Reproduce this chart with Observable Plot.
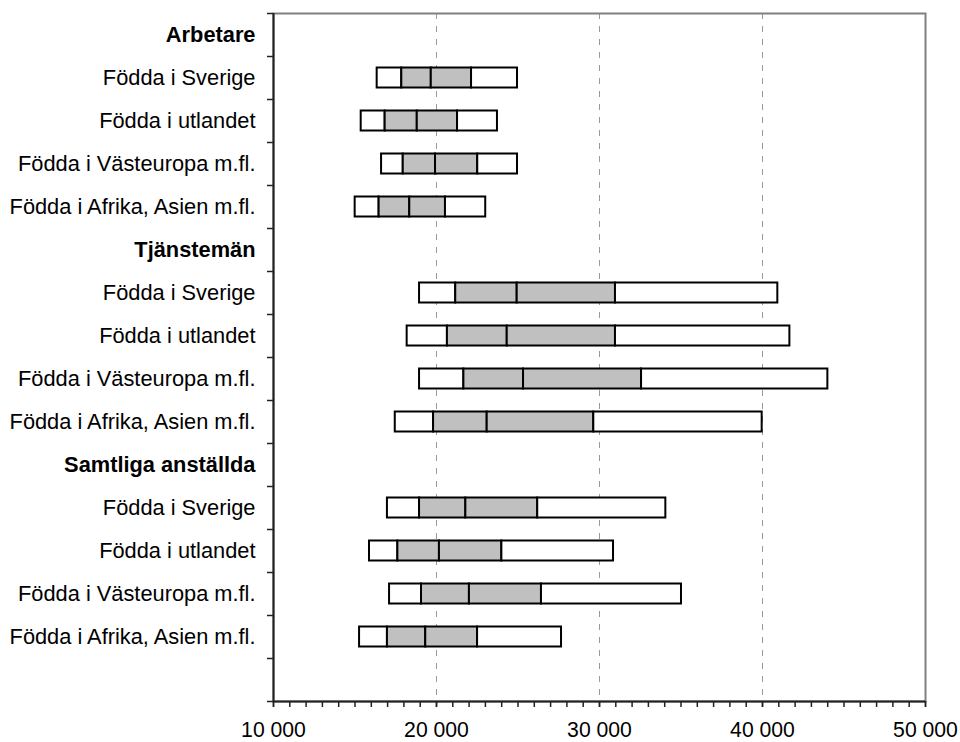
<!DOCTYPE html>
<html>
<head>
<meta charset="utf-8">
<script src="https://cdn.jsdelivr.net/npm/d3@7"></script>
<script src="https://cdn.jsdelivr.net/npm/@observablehq/plot@0.6"></script>
<style>
  html, body { margin: 0; padding: 0; background: #fff; }
</style>
</head>
<body>
<div id="chart"></div>
<script>
const groups = ["Arbetare", "Tjänstemän", "Samtliga anställda"];
const origins = ["Födda i Sverige", "Födda i utlandet", "Födda i Västeuropa m.fl.", "Födda i Afrika, Asien m.fl."];
// per row (group x origin): P10, P25, median, P75, P90
const p10 = [16360, 15380, 16630, 15010, 18960, 18200, 18960, 17470, 16990, 15890, 17120, 15280];
const p25 = [17870, 16850, 17960, 16480, 21180, 20670, 21680, 19820, 18960, 17630, 19080, 16990];
const p50 = [19680, 18820, 19940, 18360, 24950, 24340, 25340, 23110, 21800, 20180, 22020, 19340];
const p75 = [22150, 21290, 22530, 20550, 30980, 30980, 32580, 29650, 26210, 24010, 26440, 22520];
const p90 = [24970, 23740, 24970, 23020, 40940, 41680, 44010, 39980, 34070, 30860, 35030, 27670];
const xTicks = [10000, 20000, 30000, 40000, 50000];
const gridValues = [20000, 30000, 40000];

// row labels (16 bands, last one empty)
const labels = [];
groups.forEach(g => { labels.push(g); origins.forEach(o => labels.push(o)); });
labels.push("");
const headerRows = groups.map((g, i) => i * 5);
const originRows = [];
groups.forEach((g, i) => origins.forEach((o, j) => originRows.push(i * 5 + 1 + j)));

const segments = [];
originRows.forEach((row, r) => {
  segments.push({row, a: p10[r], b: p25[r], fill: "#ffffff"});
  segments.push({row, a: p25[r], b: p50[r], fill: "#c0c0c0"});
  segments.push({row, a: p50[r], b: p75[r], fill: "#c0c0c0"});
  segments.push({row, a: p75[r], b: p90[r], fill: "#ffffff"});
});

const fmt = v => d3.format(",")(v).replace(/,/g, " ");

const chart = Plot.plot({
  width: 960,
  height: 742,
  marginTop: 13,
  marginBottom: 41,
  marginLeft: 273,
  marginRight: 35,
  style: {fontFamily: "'Liberation Sans', Arial, sans-serif", fontSize: "21.5px", color: "#000", background: "#fff"},
  x: {domain: [10000, 50000], label: null},
  y: {domain: [16, 0], label: null},
  marks: [
    Plot.ruleX(gridValues, {stroke: "#9a9a9a", strokeWidth: 1, strokeDasharray: "6,7"}),
    Plot.rect(segments, {
      x1: "a", x2: "b",
      y1: "row", y2: d => d.row + 1,
      insetTop: 11.5, insetBottom: 11.5,
      fill: "fill", stroke: "#000", strokeWidth: 2
    }),
    Plot.frame({stroke: "#808080", strokeWidth: 2}),
    Plot.ruleX([10000], {stroke: "#222", strokeWidth: 2}),
    Plot.ruleY([16], {stroke: "#222", strokeWidth: 2}),
    Plot.axisY(d3.range(0, 17), {tickSize: 6, tickFormat: () => "", label: null, stroke: "#222", strokeWidth: 1.5}),
    Plot.axisY(originRows.map(r => r + 0.5), {tickSize: 0, tickPadding: 18, label: null, tickFormat: v => labels[Math.floor(v)], fill: "#000", fontSize: 21.8}),
    Plot.axisY(headerRows.map(r => r + 0.5), {tickSize: 0, tickPadding: 18, label: null, tickFormat: v => labels[Math.floor(v)], fill: "#000", fontWeight: "bold", fontSize: 21.8}),
    Plot.axisX(d3.range(10000, 50001, 1000), {tickSize: 6, tickFormat: () => "", label: null, stroke: "#222", strokeWidth: 1.5}),
    Plot.axisX(xTicks, {tickSize: 6, tickPadding: 14, label: null, tickFormat: fmt, fill: "#000", stroke: "#222", strokeWidth: 1.5, fontSize: 21.2})
  ]
});
document.getElementById("chart").appendChild(chart);
</script>
</body>
</html>
